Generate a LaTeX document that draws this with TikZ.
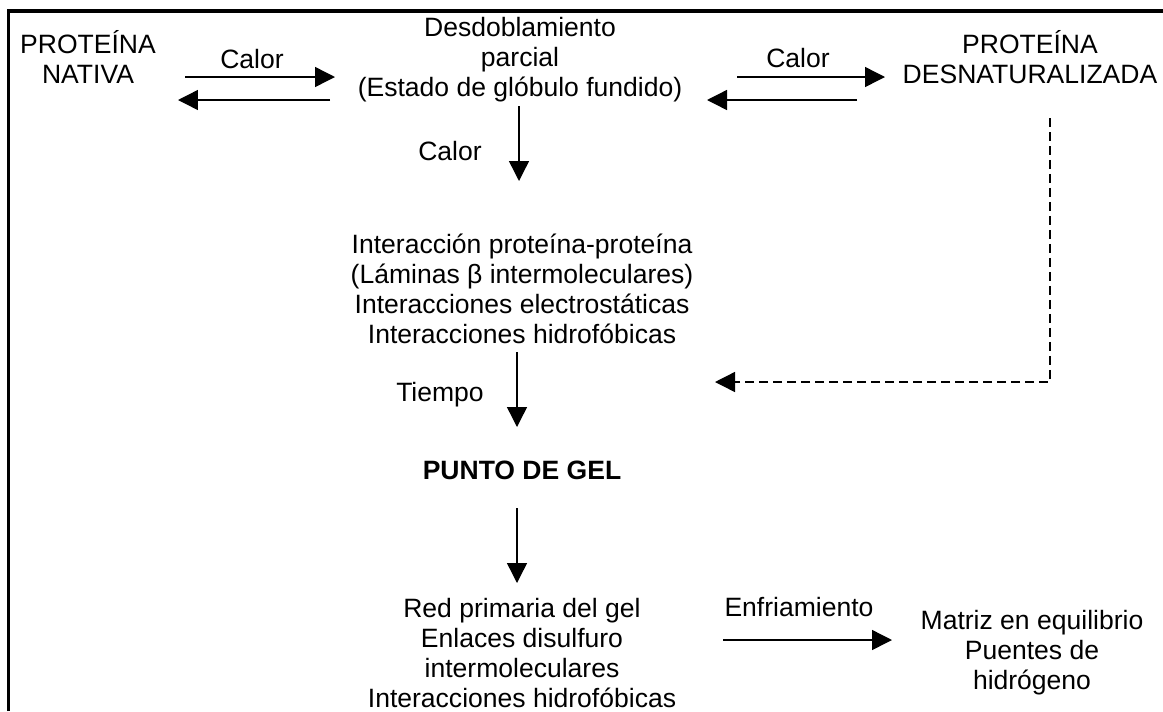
\documentclass[tikz,border=0pt]{standalone}
\usepackage{fontspec}
\setmainfont{Liberation Sans}
\usetikzlibrary{arrows.meta}

\begin{document}
\begin{tikzpicture}[x=0.02cm,y=-0.02cm,
  every node/.style={inner sep=0pt,align=center,font=\fontsize{15.1}{17.1}\selectfont},
  flecha/.style={black,line width=0.8pt,-{Triangle[length=0.4cm,width=0.4cm]}},
  punteada/.style={flecha,dash pattern=on 0.18cm off 0.1cm}]
\useasboundingbox (0,0) rectangle (1163,711);
\draw [black,line width=2.2pt] (8.5,711) -- (8.5,11) -- (1163,11);
% estados de la proteina
\node (nativa) at (88,57) {PROTEÍNA\\NATIVA};
\node (desdobl) at (520,60) {Desdoblamiento\\parcial\\(Estado de glóbulo fundido)};
\node (desnat) at (1030,57) {PROTEÍNA\\DESNATURALIZADA};
\node (inter) at (522,289) {Interacción proteína-proteína\\(Láminas β intermoleculares)\\Interacciones electrostáticas\\Interacciones hidrofóbicas};
\node (gel) at (522,470) {\bfseries PUNTO DE GEL};
\node (red) at (522,653) {Red primaria del gel\\Enlaces disulfuro\\intermoleculares\\Interacciones hidrofóbicas};
\node (matriz) at (1032,653) {Matriz en equilibrio\\Puentes de\\hidrógeno};
% etiquetas
\node (calorA) at (252,59) {Calor};
\node (calorB) at (798,58) {Calor};
\node (calorC) at (450,151) {Calor};
\node (tiempo) at (440,395) {Tiempo};
\node (enfr) at (799,607) {Enfriamiento};
% extremos de las flechas
\coordinate (a1) at (185,77);   \coordinate (a2) at (335,77);
\coordinate (b1) at (330,100);  \coordinate (b2) at (178,100);
\coordinate (c1) at (737,77);   \coordinate (c2) at (885,77);
\coordinate (d1) at (857,100);  \coordinate (d2) at (707,100);
\coordinate (e1) at (519,106);  \coordinate (e2) at (519,181);
\coordinate (f1) at (517,352);  \coordinate (f2) at (517,427);
\coordinate (g1) at (517,508);  \coordinate (g2) at (517,583);
\coordinate (h1) at (723,640);  \coordinate (h2) at (892,640);
\coordinate (p1) at (1050,118); \coordinate (p2) at (1050,382); \coordinate (p3) at (715,382);
\draw [flecha] (a1) -- (a2);
\draw [flecha] (b1) -- (b2);
\draw [flecha] (c1) -- (c2);
\draw [flecha] (d1) -- (d2);
\draw [flecha] (e1) -- (e2);
\draw [flecha] (f1) -- (f2);
\draw [flecha] (g1) -- (g2);
\draw [flecha] (h1) -- (h2);
\draw [punteada] (p1) -- (p2) -- (p3);
\end{tikzpicture}
\end{document}
